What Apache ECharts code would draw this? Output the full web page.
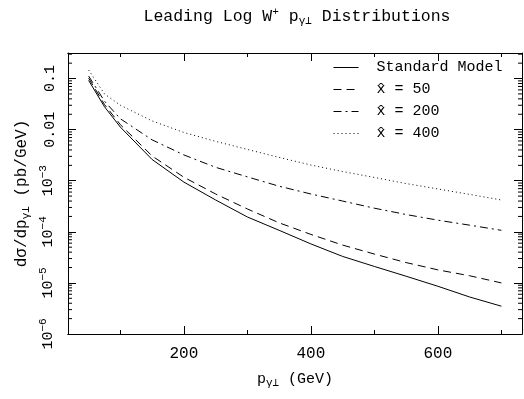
<!DOCTYPE html>
<html>
<head>
<meta charset="utf-8">
<script src="https://cdn.jsdelivr.net/npm/echarts@6/dist/echarts.min.js"></script>
<style>
  html, body { margin: 0; padding: 0; background: #fff; }
  #chart { width: 524px; height: 399px; }
</style>
</head>
<body>
<div id="chart"></div>
<script>
// p_gamma_perp values (GeV)
var ptValues = [50, 75, 100, 150, 200, 250, 300, 350, 400, 450, 500, 550, 600, 650, 700];

// d sigma / d p (pb/GeV)
var standardModel = [0.092, 0.028, 0.0112, 2.6e-3, 9.4e-4, 4.2e-4, 1.95e-4, 1.07e-4, 5.8e-5, 3.3e-5, 2.1e-5, 1.35e-5, 8.6e-6, 5.3e-6, 3.5e-6];
var xHat50 = [0.102, 0.031, 0.0125, 3.05e-3, 1.17e-3, 5.5e-4, 2.8e-4, 1.5e-4, 8.9e-5, 5.5e-5, 3.67e-5, 2.5e-5, 1.8e-5, 1.38e-5, 1.0e-5];
var xHat200 = [0.112, 0.036, 0.0163, 6.3e-3, 3.2e-3, 1.83e-3, 1.19e-3, 7.8e-4, 5.5e-4, 4.0e-4, 2.9e-4, 2.18e-4, 1.69e-4, 1.35e-4, 1.07e-4];
var xHat400 = [0.147, 0.05, 0.030, 0.0148, 8.8e-3, 5.9e-3, 4.1e-3, 2.86e-3, 2.03e-3, 1.51e-3, 1.16e-3, 8.8e-4, 6.9e-4, 5.4e-4, 4.2e-4];

var seriesNames = ['Standard Model', 'x\u0302 = 50', 'x\u0302 = 200', 'x\u0302 = 400'];

// axis ranges and minor tick positions for the log axis
var xMin = 17.5, xMax = 732.5;
var yMin = 1e-6, yMax = 0.3162;
var decades = [1e-6, 1e-5, 1e-4, 1e-3, 1e-2, 1e-1];
var minorSteps = [2, 3, 4, 5, 6, 7, 8, 9];

var FONT = '"Liberation Mono", monospace';

function pairs(xs, ys) {
    return xs.map(function (x, i) { return [x, ys[i]]; });
}

var minorTicks = [];
decades.forEach(function (d) {
    minorSteps.forEach(function (m) {
        if (d * m < yMax) minorTicks.push([xMin, d * m]);
    });
});

function yLabel(v) {
    var e = Math.round(Math.log10(v));
    if (e === -1) return '0.1';
    if (e === -2) return '0.01';
    return '10{sup|\u2212' + (-e) + '}';
}

var myChart = echarts.init(document.getElementById('chart'));

function xAxisDef(pos, step, len, labels) {
    return {
        type: 'value',
        position: pos,
        min: xMin,
        max: xMax,
        minInterval: step,
        maxInterval: step,
        axisLine: { show: true, onZero: false, lineStyle: { color: '#000', width: 1 } },
        axisTick: { show: true, inside: true, length: len, lineStyle: { color: '#000' } },
        splitLine: { show: false },
        axisLabel: {
            show: labels,
            showMinLabel: false,
            showMaxLabel: false,
            margin: 12,
            color: '#000',
            fontFamily: FONT,
            fontSize: 16
        }
    };
}

function yAxisDef(pos, labels) {
    return {
        type: 'log',
        logBase: 10,
        position: pos,
        min: yMin,
        max: yMax,
        axisLine: { show: true, onZero: false, lineStyle: { color: '#000', width: 1 } },
        axisTick: { show: true, inside: true, length: 8, lineStyle: { color: '#000' } },
        splitLine: { show: false },
        axisLabel: {
            show: labels,
            showMaxLabel: false,
            rotate: 90,
            margin: 10,
            color: '#000',
            fontFamily: FONT,
            fontSize: 15,
            formatter: yLabel,
            rich: {
                sup: { fontFamily: FONT, fontSize: 11, color: '#000', padding: [0, 0, 9, 0] }
            }
        }
    };
}

var bottomMajor = xAxisDef('bottom', 200, 8, true);
bottomMajor.name = 'p{sub|\u03b3\u22a5} (GeV)';
bottomMajor.nameLocation = 'middle';
bottomMajor.nameGap = 35;
bottomMajor.nameTextStyle = {
    color: '#000', fontFamily: FONT, fontSize: 15,
    rich: { sub: { fontFamily: FONT, fontSize: 11, color: '#000', padding: [9, 0, 0, 0] } }
};

var leftAxis = yAxisDef('left', true);
leftAxis.name = 'd\u03c3/dp{sub|\u03b3\u22a5} (pb/GeV)';
leftAxis.nameLocation = 'middle';
leftAxis.nameRotate = 90;
leftAxis.nameGap = 36;
leftAxis.nameMoveOverlap = false;
leftAxis.nameTextStyle = {
    color: '#000', fontFamily: FONT, fontSize: 16,
    rich: { sub: { fontFamily: FONT, fontSize: 11, color: '#000', padding: [9, 0, 0, 0] } }
};

function curve(name, data, type) {
    return {
        name: name,
        type: 'line',
        data: pairs(ptValues, data),
        showSymbol: false,
        symbol: 'none',
        smooth: false,
        xAxisIndex: 0,
        yAxisIndex: 0,
        lineStyle: { color: '#000', width: 1, type: type },
        itemStyle: { color: '#000' }
    };
}

option = {
    animation: false,
    backgroundColor: '#fff',
    title: {
        text: 'Leading Log W{sup|+} p{sub|\u03b3\u22a5} Distributions',
        left: 292,
        top: 2,
        textAlign: 'center',
        textStyle: {
            color: '#000', fontFamily: FONT, fontSize: 16.5, fontWeight: 'normal',
            rich: {
                sup: { fontFamily: FONT, fontSize: 11, color: '#000', padding: [0, 0, 9, 0] },
                sub: { fontFamily: FONT, fontSize: 11, color: '#000', padding: [9, 0, 0, 0] }
            }
        }
    },
    grid: { left: 68, right: 2, top: 53, bottom: 65 },
    legend: {
        data: seriesNames,
        orient: 'vertical',
        left: 328,
        top: 55,
        itemWidth: 25,
        itemHeight: 12,
        itemGap: 7,
        itemStyle: { opacity: 0 },
        lineStyle: { width: 1 },
        textStyle: { color: '#000', fontFamily: FONT, fontSize: 15, padding: [0, 0, 0, 13] }
    },
    xAxis: [
        bottomMajor,
        xAxisDef('bottom', 100, 4, false),
        xAxisDef('top', 200, 8, false),
        xAxisDef('top', 100, 4, false)
    ],
    yAxis: [
        leftAxis,
        yAxisDef('right', false)
    ],
    series: [
        curve(seriesNames[0], standardModel, 'solid'),
        curve(seriesNames[1], xHat50, [8, 5]),
        curve(seriesNames[2], xHat200, [8, 4, 2, 4]),
        curve(seriesNames[3], xHat400, [1, 3]),
        {
            type: 'custom',
            xAxisIndex: 0,
            yAxisIndex: 0,
            silent: true,
            clip: false,
            data: minorTicks,
            renderItem: function (params, api) {
                var pL = api.coord([xMin, api.value(1)]);
                var pR = api.coord([xMax, api.value(1)]);
                return {
                    type: 'group',
                    children: [
                        { type: 'line', shape: { x1: pL[0], y1: pL[1], x2: pL[0] + 4, y2: pL[1] }, style: { stroke: '#000', lineWidth: 1 } },
                        { type: 'line', shape: { x1: pR[0] - 4, y1: pR[1], x2: pR[0], y2: pR[1] }, style: { stroke: '#000', lineWidth: 1 } }
                    ]
                };
            }
        }
    ]
};
myChart.setOption(option, true);
</script>
</body>
</html>
